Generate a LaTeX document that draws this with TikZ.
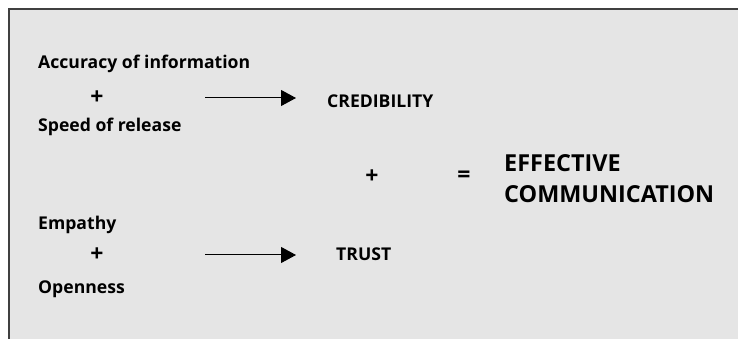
\documentclass[tikz,border=0pt]{standalone}
\usepackage{fontspec}
\setmainfont{Open Sans}
\usetikzlibrary{positioning, arrows.meta}

\begin{document}
\begin{tikzpicture}[x=1pt, y=1pt, >={Triangle[length=15pt,width=16pt]},
    txt/.style={inner sep=0pt, anchor=base west, font=\fontsize{17.6}{20}\selectfont\bfseries},
    bigtxt/.style={inner sep=0pt, anchor=base west, font=\fontsize{23.4}{26}\selectfont\bfseries},
    sign/.style={inner sep=0pt, font=\fontsize{23}{26}\selectfont\bfseries}]
    % Frame
    \useasboundingbox (0,0) rectangle (738,339);
    \fill[black!10] (9,0) rectangle (738,330);
    \draw[black!75, line width=1.5pt] (9,0) -- (9,330) -- (738,330);

    % Nodes
    \node[txt] (acc) at (38,270) {Accuracy of information};
    \node[sign] (plusA) at (97,241) {+};
    \node[txt] (speed) at (38,207.5) {Speed of release};
    \node[txt] (cred) at (327,231) {CREDIBILITY};

    \node[sign] (plusM) at (372,162) {+};
    \node[sign] (eq) at (464,162) {=};
    \node[bigtxt] (eff) at (504,167.5) {EFFECTIVE};
    \node[bigtxt] (comm) at (504,136) {COMMUNICATION};

    \node[txt] (emp) at (38,109.7) {Empathy};
    \node[sign] (plusB) at (97,84) {+};
    \node[txt] (open) at (38,45.7) {Openness};
    \node[txt] (trust) at (336,78.3) {TRUST};

    % Paths
    \coordinate (tailA) at (205,241);
    \coordinate (tailB) at (205,84);
    \draw[->, line width=1pt, shorten >=31pt] (tailA) -- (tailA -| cred.west);
    \draw[->, line width=1pt, shorten >=40pt] (tailB) -- (tailB -| trust.west);
\end{tikzpicture}
\end{document}
